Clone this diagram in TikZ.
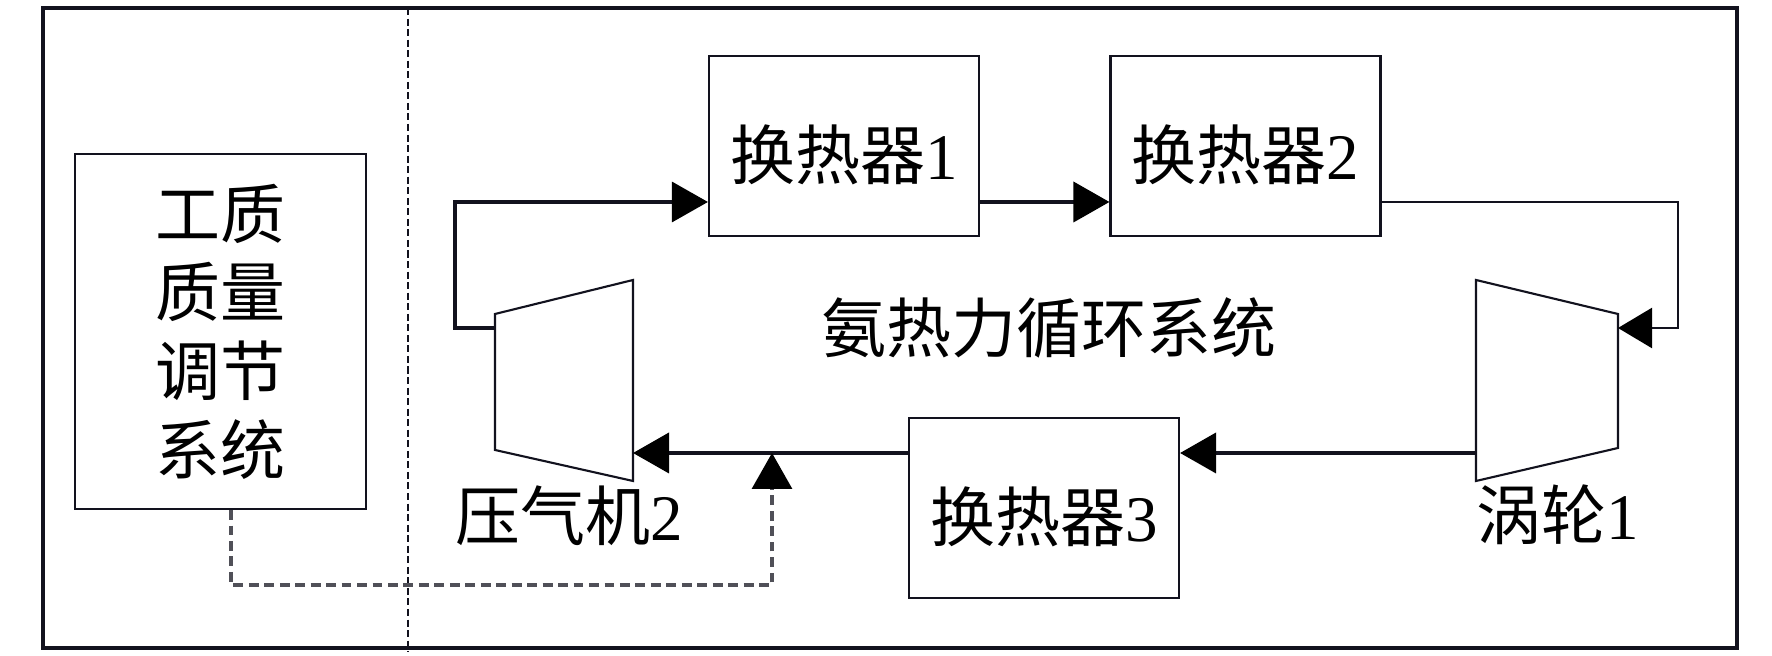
\documentclass[tikz,border=0pt]{standalone}
\usepackage{fontspec}
\setmainfont{Liberation Serif}
\newfontfamily\cjk{Noto Sans CJK SC}
\usepackage{tikz}
\usetikzlibrary{arrows.meta}

\definecolor{linec}{RGB}{18,18,30}
\definecolor{ctrlc}{RGB}{80,80,88}

\newcommand{\hxname}[1]{\raisebox{-2.5pt}[\height][\depth]{{\cjk 换热器}#1}}

\tikzset{
  unitbox/.style  = {draw=linec, line width=0.6pt, inner sep=0pt,
                     minimum width=2.70cm, minimum height=1.795cm,
                     font=\fontsize{18.5}{22}\selectfont},
  flow/.style     = {draw=linec, line width=1.1pt,
                     -{Triangle[length=3.6mm, width=4mm, color=black]}},
  thinflow/.style = {draw=linec, line width=0.65pt,
                     -{Triangle[length=3.4mm, width=4mm, color=black]}},
  ctrl/.style     = {draw=ctrlc, line width=0.9pt, dash pattern=on 2.8pt off 1.6pt,
                     -{Triangle[length=3.6mm, width=4mm, color=black]}},
  lbl/.style      = {font=\fontsize{18.5}{22}\selectfont, inner sep=0pt}
}

\begin{document}
\begin{tikzpicture}
        \useasboundingbox (0,0) rectangle (17.72,6.56);
        \draw [linec, line width=1pt]  (0.43,0.08) rectangle (17.37,6.48);          %frame
        \draw [linec, line width=0.6pt, dash pattern=on 2pt off 1pt]
                                       (4.08,6.48) -- (4.08,0.04);                  %divider

        \node [unitbox, minimum width=2.91cm, minimum height=3.55cm, align=center,
               font=\fontsize{18.5}{22.4}\selectfont\cjk]
              (reg) at (2.205,3.245) {工质\\质量\\调节\\系统};                       %regulation

        \node [unitbox] (hx1) at (8.44,5.10)  {\hxname{1}};                         %HX1
        \node [unitbox] (hx2) at (12.455,5.10) {\hxname{2}};                        %HX2
        \node [unitbox] (hx3) at (10.44,1.48)  {\hxname{3}};                        %HX3

        \draw [linec, line width=0.6pt] (4.95,3.42) -- (6.33,3.76) -- (6.33,1.75)
                                        -- (4.95,2.06) -- cycle;                    %compressor
        \draw [linec, line width=0.6pt] (14.76,3.76) -- (16.18,3.42) -- (16.18,2.08)
                                        -- (14.76,1.75) -- cycle;                   %turbine

        \node [lbl] (c2lbl) at (5.69,1.40)  {{\cjk 压气机}2};                      %
        \node [lbl] (t1lbl) at (15.58,1.41) {{\cjk 涡轮}1};                        %
        \node [lbl] (sys)   at (10.49,3.28) {\cjk 氨热力循环系统};                 %

        \coordinate (c2out) at (4.95,3.28);                                         %
        \coordinate (c2in)  at (6.33,2.03);                                         %
        \coordinate (t1in)  at (16.18,3.28);                                        %
        \coordinate (t1out) at (14.76,2.03);                                        %
        \coordinate (k1)    at (4.55,4.54);                                         %
        \coordinate (k2)    at (16.78,3.28);                                        %
        \coordinate (d1)    at (2.31,0.71);                                         %
        \coordinate (d2)    at (7.72,0.71);                                         %

        \draw [flow, line width=0.9pt] (c2out) -| (k1) -- (k1 -| hx1.west);         %
        \draw [flow]     (hx1.east |- k1)    -- (hx2.west |- k1);                    %
        \draw [thinflow] (hx2.east |- k1)    -| (k2) -- (t1in);                      %
        \draw [flow]     (t1out)             -- (hx3.east |- t1out);                 %
        \draw [flow]     (hx3.west |- t1out) -- (c2in);                              %
        \draw [ctrl]     (reg.south -| d1)   |- (d2) -- (d2 |- c2in);                %
      \end{tikzpicture}
\end{document}
